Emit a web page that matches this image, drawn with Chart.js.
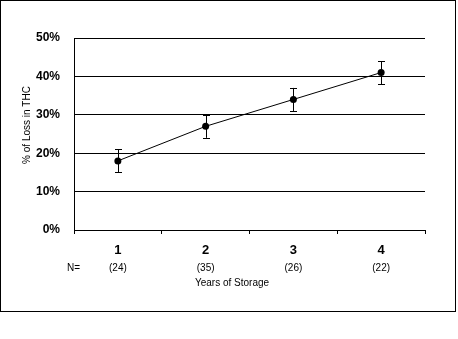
<!DOCTYPE html>
<html>
<head>
<meta charset="utf-8">
<script src="https://cdn.jsdelivr.net/npm/chart.js@4"></script>
<style>
  body { margin: 0; background: #fff; }
  #wrap { width: 458px; height: 339px; }
</style>
</head>
<body>
<div id="wrap"><canvas id="thcChart" width="458" height="339"></canvas></div>
<script>
// dados
const years = ['1', '2', '3', '4'];
const nCounts = ['(24)', '(35)', '(26)', '(22)'];
const lossPct = [18, 27, 34, 41];
const errLow = [15, 24, 31, 38];
const errHigh = [21, 30, 37, 44];
const yTicks = [0, 10, 20, 30, 40, 50];

const FONT = "'Liberation Sans', Arial, sans-serif";

// moldura externa
const framePlugin = {
    id: 'frame',
    beforeDraw(chart) {
        const ctx = chart.ctx;
        ctx.save();
        ctx.fillStyle = '#fff';
        ctx.fillRect(0, 0, chart.width, chart.height);
        ctx.strokeStyle = '#000';
        ctx.lineWidth = 1;
        ctx.strokeRect(0.5, 0.5, 455, 311);
        ctx.restore();
    }
};

// barras de erro
const errorBars = {
    id: 'errorBars',
    afterDatasetsDraw(chart) {
        const ctx = chart.ctx;
        const meta = chart.getDatasetMeta(0);
        const y = chart.scales.y;
        ctx.save();
        ctx.strokeStyle = '#000';
        ctx.lineWidth = 1;
        meta.data.forEach((pt, i) => {
            const x = Math.round(pt.x) + 0.5;
            const top = y.getPixelForValue(errHigh[i]);
            const bot = y.getPixelForValue(errLow[i]);
            ctx.beginPath();
            ctx.moveTo(x, top); ctx.lineTo(x, bot);
            ctx.moveTo(x - 3.5, Math.round(top) + 0.5); ctx.lineTo(x + 3.5, Math.round(top) + 0.5);
            ctx.moveTo(x - 3.5, Math.round(bot) + 0.5); ctx.lineTo(x + 3.5, Math.round(bot) + 0.5);
            ctx.stroke();
        });
        ctx.restore();
    }
};

// textos extras: N=, contagens, títulos dos eixos
const extraText = {
    id: 'extraText',
    afterDraw(chart) {
        const ctx = chart.ctx;
        const x = chart.scales.x;
        const area = chart.chartArea;
        ctx.save();
        ctx.fillStyle = '#000';
        ctx.textBaseline = 'middle';
        ctx.font = '10px ' + FONT;
        ctx.textAlign = 'left';
        ctx.fillText('N=', 67, 268);
        ctx.textAlign = 'center';
        nCounts.forEach((n, i) => {
            ctx.fillText(n, x.getPixelForValue(i), 268);
        });
        ctx.fillText('Years of Storage', 232, 283);
        ctx.translate(27, (area.top + area.bottom) / 2 - 9);
        ctx.rotate(-Math.PI / 2);
        ctx.fillText('% of Loss in THC', 0, 0);
        ctx.restore();
    }
};

new Chart(document.getElementById('thcChart'), {
    type: 'line',
    data: {
        labels: years,
        datasets: [{
            data: lossPct,
            borderColor: '#000',
            borderWidth: 1,
            backgroundColor: '#000',
            pointRadius: 3.5,
            pointBackgroundColor: '#000',
            pointBorderWidth: 0,
            tension: 0
        }]
    },
    options: {
        responsive: false,
        animation: false,
        devicePixelRatio: 1,
        layout: { padding: { left: 0, top: 38, right: 33, bottom: 0 } },
        plugins: { legend: { display: false }, tooltip: { enabled: false } },
        scales: {
            x: {
                type: 'category',
                offset: true,
                afterFit: s => { s.height = 109; },
                grid: { offset: true, drawOnChartArea: false, drawTicks: true, tickLength: 4, color: '#000' },
                border: { color: '#000', width: 1 },
                ticks: { color: '#000', padding: 9, font: { family: FONT, size: 13, weight: 'bold' } }
            },
            y: {
                min: 0,
                max: 50,
                afterFit: s => { s.width = 74; },
                afterBuildTicks: s => { s.ticks = yTicks.map(v => ({ value: v })); },
                grid: { color: '#000', lineWidth: 1, drawTicks: false },
                border: { color: '#000', width: 1 },
                ticks: {
                    color: '#000',
                    padding: 14,
                    font: { family: FONT, size: 12, weight: 'bold' },
                    callback: v => v + '%'
                }
            }
        }
    },
    plugins: [framePlugin, errorBars, extraText]
});
</script>
</body>
</html>
